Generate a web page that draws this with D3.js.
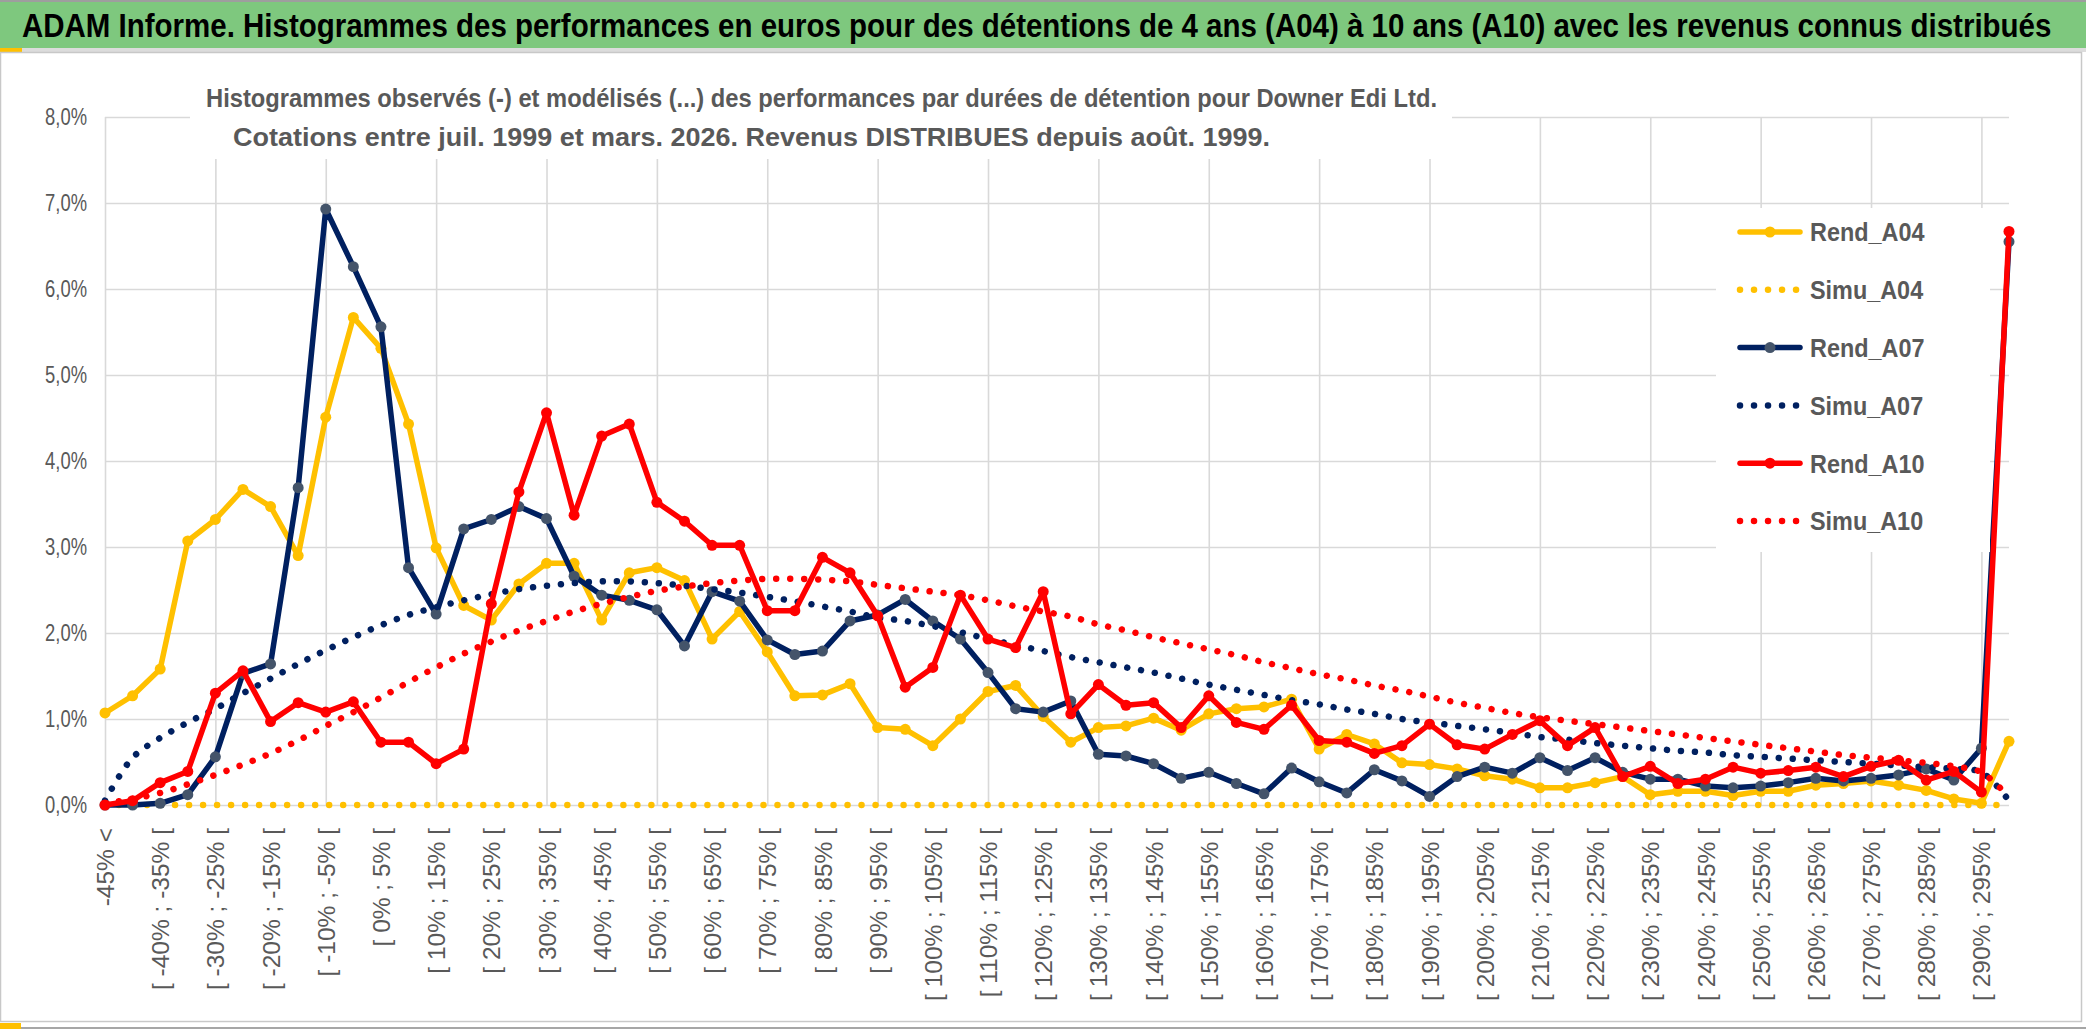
<!DOCTYPE html>
<html>
<head>
<meta charset="utf-8">
<script src="https://cdnjs.cloudflare.com/ajax/libs/d3/7.8.5/d3.min.js"></script>
<style>
  body { margin: 0; background: #fff; }
  svg { display: block; }
  text { font-family: "Liberation Sans", Arial, sans-serif; }
</style>
</head>
<body>
<div id="chart"></div>
<script>
// categories (classes de performance)
const categories = [
  "-45% <", "[ -45% ; -40% [", "[ -40% ; -35% [", "[ -35% ; -30% [", "[ -30% ; -25% [",
  "[ -25% ; -20% [", "[ -20% ; -15% [", "[ -15% ; -10% [", "[ -10% ; -5% [", "[ -5% ; 0% [",
  "[ 0% ; 5% [", "[ 5% ; 10% [", "[ 10% ; 15% [", "[ 15% ; 20% [", "[ 20% ; 25% [",
  "[ 25% ; 30% [", "[ 30% ; 35% [", "[ 35% ; 40% [", "[ 40% ; 45% [", "[ 45% ; 50% [",
  "[ 50% ; 55% [", "[ 55% ; 60% [", "[ 60% ; 65% [", "[ 65% ; 70% [", "[ 70% ; 75% [",
  "[ 75% ; 80% [", "[ 80% ; 85% [", "[ 85% ; 90% [", "[ 90% ; 95% [", "[ 95% ; 100% [",
  "[ 100% ; 105% [", "[ 105% ; 110% [", "[ 110% ; 115% [", "[ 115% ; 120% [", "[ 120% ; 125% [",
  "[ 125% ; 130% [", "[ 130% ; 135% [", "[ 135% ; 140% [", "[ 140% ; 145% [", "[ 145% ; 150% [",
  "[ 150% ; 155% [", "[ 155% ; 160% [", "[ 160% ; 165% [", "[ 165% ; 170% [", "[ 170% ; 175% [",
  "[ 175% ; 180% [", "[ 180% ; 185% [", "[ 185% ; 190% [", "[ 190% ; 195% [", "[ 195% ; 200% [",
  "[ 200% ; 205% [", "[ 205% ; 210% [", "[ 210% ; 215% [", "[ 215% ; 220% [", "[ 220% ; 225% [",
  "[ 225% ; 230% [", "[ 230% ; 235% [", "[ 235% ; 240% [", "[ 240% ; 245% [", "[ 245% ; 250% [",
  "[ 250% ; 255% [", "[ 255% ; 260% [", "[ 260% ; 265% [", "[ 265% ; 270% [", "[ 270% ; 275% [",
  "[ 275% ; 280% [", "[ 280% ; 285% [", "[ 285% ; 290% [", "[ 290% ; 295% [", "> 295%"
];

// valeurs en %
const rendA04 = [
  1.07, 1.27, 1.58, 3.07, 3.32, 3.67, 3.47, 2.90, 4.51, 5.67,
  5.31, 4.43, 2.99, 2.32, 2.15, 2.57, 2.81, 2.81, 2.15, 2.70,
  2.76, 2.61, 1.93, 2.25, 1.78, 1.27, 1.28, 1.41, 0.90, 0.88,
  0.69, 1.00, 1.32, 1.39, 1.03, 0.73, 0.90, 0.92, 1.01, 0.87,
  1.06, 1.12, 1.14, 1.23, 0.65, 0.82, 0.71, 0.49, 0.47, 0.42,
  0.34, 0.30, 0.20, 0.20, 0.26, 0.33, 0.12, 0.16, 0.16, 0.11,
  0.16, 0.16, 0.23, 0.25, 0.28, 0.23, 0.17, 0.07, 0.02, 0.74
];
const simuA04 = [
  0, 0, 0, 0, 0, 0, 0, 0, 0, 0,
  0, 0, 0, 0, 0, 0, 0, 0, 0, 0,
  0, 0, 0, 0, 0, 0, 0, 0, 0, 0,
  0, 0, 0, 0, 0, 0, 0, 0, 0, 0,
  0, 0, 0, 0, 0, 0, 0, 0, 0, 0,
  0, 0, 0, 0, 0, 0, 0, 0, 0, 0,
  0, 0, 0, 0, 0, 0, 0, 0, 0, 0
];
const rendA07 = [
  0.00, 0.00, 0.02, 0.12, 0.56, 1.53, 1.64, 3.69, 6.93, 6.26,
  5.56, 2.76, 2.22, 3.21, 3.32, 3.47, 3.33, 2.66, 2.44, 2.38,
  2.27, 1.85, 2.48, 2.37, 1.92, 1.75, 1.79, 2.14, 2.21, 2.39,
  2.14, 1.93, 1.54, 1.12, 1.08, 1.21, 0.59, 0.57, 0.48, 0.31,
  0.38, 0.25, 0.13, 0.43, 0.27, 0.14, 0.41, 0.28, 0.10, 0.33,
  0.44, 0.37, 0.55, 0.40, 0.55, 0.38, 0.30, 0.30, 0.22, 0.20,
  0.22, 0.26, 0.31, 0.28, 0.31, 0.35, 0.42, 0.29, 0.66, 6.55
];
const simuA07 = [
  0.05, 0.55, 0.78, 0.96, 1.12, 1.30, 1.47, 1.64, 1.80, 1.95,
  2.09, 2.21, 2.30, 2.38, 2.45, 2.51, 2.55, 2.58, 2.60, 2.60,
  2.58, 2.55, 2.51, 2.47, 2.42, 2.37, 2.31, 2.25, 2.18, 2.14,
  2.08, 2.01, 1.93, 1.86, 1.79, 1.72, 1.66, 1.60, 1.54, 1.47,
  1.40, 1.34, 1.28, 1.22, 1.17, 1.11, 1.06, 1.00, 0.96, 0.92,
  0.88, 0.84, 0.79, 0.76, 0.72, 0.69, 0.66, 0.63, 0.61, 0.58,
  0.56, 0.54, 0.52, 0.50, 0.48, 0.46, 0.44, 0.42, 0.38, 0.05
];
const rendA10 = [
  0.00, 0.05, 0.26, 0.39, 1.30, 1.56, 0.97, 1.19, 1.08, 1.20,
  0.73, 0.73, 0.48, 0.65, 2.34, 3.64, 4.56, 3.37, 4.29, 4.43,
  3.52, 3.30, 3.02, 3.02, 2.26, 2.26, 2.88, 2.70, 2.20, 1.37,
  1.60, 2.44, 1.93, 1.83, 2.48, 1.06, 1.40, 1.16, 1.19, 0.90,
  1.27, 0.96, 0.88, 1.16, 0.75, 0.73, 0.60, 0.69, 0.94, 0.70,
  0.65, 0.82, 0.98, 0.69, 0.90, 0.33, 0.45, 0.25, 0.30, 0.44,
  0.37, 0.40, 0.44, 0.33, 0.45, 0.52, 0.29, 0.39, 0.15, 6.67
];
const simuA10 = [
  0.02, 0.07, 0.14, 0.24, 0.35, 0.47, 0.60, 0.75, 0.92, 1.08,
  1.25, 1.43, 1.60, 1.76, 1.90, 2.03, 2.14, 2.25, 2.34, 2.42,
  2.49, 2.54, 2.58, 2.61, 2.63, 2.63, 2.62, 2.60, 2.56, 2.52,
  2.48, 2.44, 2.38, 2.31, 2.25, 2.19, 2.10, 2.03, 1.95, 1.88,
  1.81, 1.74, 1.66, 1.59, 1.52, 1.46, 1.39, 1.33, 1.26, 1.19,
  1.13, 1.07, 1.02, 0.98, 0.94, 0.90, 0.86, 0.82, 0.78, 0.74,
  0.70, 0.66, 0.62, 0.58, 0.55, 0.52, 0.49, 0.45, 0.38, 0.09
];
const yTicks = [0, 1, 2, 3, 4, 5, 6, 7, 8];

const titre = "ADAM Informe. Histogrammes des performances en euros pour des détentions de 4 ans (A04) à 10 ans (A10) avec les revenus connus distribués";
const sousTitre = [
  "Histogrammes observés (-) et modélisés (...) des performances par durées de détention pour Downer Edi Ltd.",
  "Cotations entre juil. 1999 et mars. 2026. Revenus DISTRIBUES depuis août. 1999."
];

const series = [
  {name: "Rend_A04", values: rendA04, color: "#FFC000", marker: "#FFC000", dotted: false},
  {name: "Simu_A04", values: simuA04, color: "#FFC000", dotted: true},
  {name: "Rend_A07", values: rendA07, color: "#002060", marker: "#44546A", dotted: false},
  {name: "Simu_A07", values: simuA07, color: "#002060", dotted: true},
  {name: "Rend_A10", values: rendA10, color: "#FF0000", marker: "#FF0000", dotted: false},
  {name: "Simu_A10", values: simuA10, color: "#FF0000", dotted: true}
];

const W = 2086, H = 1031;
const grey = "#595959", gridCol = "#d9d9d9";

const svg = d3.select("#chart").append("svg")
  .attr("width", W).attr("height", H);

// compresse un texte horizontalement (police type Calibri étroite)
function squeeze(sel, k) {
  sel.each(function () {
    const L = this.getComputedTextLength();
    this.setAttribute("textLength", L * k);
    this.setAttribute("lengthAdjust", "spacingAndGlyphs");
  });
}

// fond, bandeau vert et cadre
svg.append("rect").attr("width", W).attr("height", H).attr("fill", "#fff");
svg.append("rect").attr("x", 0).attr("y", 0).attr("width", W).attr("height", 2).attr("fill", "#9e9e9e");
svg.append("rect").attr("x", 0).attr("y", 2).attr("width", W).attr("height", 46).attr("fill", "#7ec87e");
svg.append("rect").attr("x", 0).attr("y", 48).attr("width", W).attr("height", 4).attr("fill", "#dcdcdc");
svg.append("rect").attr("x", 0).attr("y", 48).attr("width", 22).attr("height", 5).attr("fill", "#FFC000");
svg.append("rect").attr("x", 0.5).attr("y", 52.5).attr("width", 2081).attr("height", 969)
  .attr("fill", "none").attr("stroke", "#c8c8c8").attr("stroke-width", 1.5);
svg.append("rect").attr("x", 0).attr("y", 1027).attr("width", W).attr("height", 2).attr("fill", "#a6a6a6");
svg.append("rect").attr("x", 0).attr("y", 1023).attr("width", 21).attr("height", 6).attr("fill", "#FFC000");

// titre : police étroite simulée par une mise à l'échelle horizontale
const gTitre = svg.append("g").attr("transform", "translate(22,37)");
const tTitre = gTitre.append("text")
  .attr("font-size", 33).attr("font-weight", "bold").attr("fill", "#000")
  .text(titre);
const kTitre = 2030 / tTitre.node().getComputedTextLength();
gTitre.attr("transform", `translate(22,37) scale(${kTitre},1)`);

// échelles
const x = d3.scalePoint().domain(d3.range(categories.length)).range([105, 2009]);
const y = d3.scaleLinear().domain([0, 8]).range([805, 117]);
const plotW = x.range()[1] - x.range()[0];

// grille horizontale + libellés Y
const gy = svg.append("g").attr("transform", `translate(${x(0)},0)`)
  .call(d3.axisLeft(y).tickValues(yTicks).tickSize(-plotW).tickPadding(18)
    .tickFormat(d => d.toFixed(1).replace(".", ",") + "%"));
gy.select(".domain").remove();
gy.selectAll("line").attr("stroke", gridCol).attr("stroke-width", 1.6);
gy.selectAll("text").attr("font-size", 23).attr("fill", grey)
  .attr("font-family", "Liberation Sans, Arial, sans-serif").call(squeeze, 0.8);

// grille verticale (toutes les 4 classes)
const gx = svg.append("g").attr("transform", `translate(0,${y(0)})`)
  .call(d3.axisBottom(x).tickValues(d3.range(0, categories.length, 4))
    .tickSize(-(y(0) - y(8))).tickFormat(""));
gx.select(".domain").remove();
gx.selectAll("line").attr("stroke", gridCol).attr("stroke-width", 1.6);

// libellés X (une classe sur deux)
const gl = svg.append("g").attr("transform", `translate(0,${y(0)})`)
  .call(d3.axisBottom(x).tickValues(d3.range(0, categories.length, 2))
    .tickSize(0).tickFormat(i => categories[i]));
gl.select(".domain").remove();
gl.selectAll("text")
  .attr("transform", "rotate(-90)")
  .attr("x", -23).attr("y", 0).attr("dy", "0.35em")
  .attr("text-anchor", "end")
  .attr("font-size", 24.5).attr("fill", grey)
  .attr("font-family", "Liberation Sans, Arial, sans-serif");

// bloc du sous-titre (masque le haut de la grille)
svg.append("rect").attr("x", 190).attr("y", 58).attr("width", 1262).attr("height", 101).attr("fill", "#fff");
const stPos = [{x: 206, y: 107, len: 1231}, {x: 233, y: 146, len: 1037}];
sousTitre.forEach((t, i) => {
  svg.append("text")
    .attr("x", stPos[i].x).attr("y", stPos[i].y)
    .attr("font-size", 26).attr("font-weight", "bold").attr("fill", grey)
    .attr("textLength", stPos[i].len).attr("lengthAdjust", "spacingAndGlyphs")
    .text(t);
});

// séries
const lineRend = d3.line().x((d, i) => x(i)).y(d => y(d));
const lineSimu = d3.line().x((d, i) => x(i)).y(d => y(d)).curve(d3.curveCatmullRom.alpha(0.5));

const gs = svg.append("g");
series.forEach(s => {
  const g = gs.append("g");
  g.append("path")
    .datum(s.values)
    .attr("d", s.dotted ? lineSimu : lineRend)
    .attr("fill", "none")
    .attr("stroke", s.color)
    .attr("stroke-width", s.dotted ? 6.5 : 5.5)
    .attr("stroke-linejoin", "round")
    .attr("stroke-linecap", "round")
    .attr("stroke-dasharray", s.dotted ? "0.01 14" : null);
  if (!s.dotted) {
    g.selectAll("circle").data(s.values).enter().append("circle")
      .attr("cx", (d, i) => x(i)).attr("cy", d => y(d))
      .attr("r", 5.5).attr("fill", s.marker);
  }
});

// légende
const lg = svg.append("g");
lg.append("rect").attr("x", 1716).attr("y", 208).attr("width", 274).attr("height", 344).attr("fill", "#fff");
series.forEach((s, i) => {
  const cy = 232 + i * 57.8;
  lg.append("line")
    .attr("x1", 1740).attr("x2", 1800).attr("y1", cy).attr("y2", cy)
    .attr("stroke", s.color)
    .attr("stroke-width", s.dotted ? 6.5 : 5.5)
    .attr("stroke-linecap", "round")
    .attr("stroke-dasharray", s.dotted ? "0.01 14" : null);
  if (!s.dotted) {
    lg.append("circle").attr("cx", 1770).attr("cy", cy).attr("r", 5.5).attr("fill", s.marker);
  }
  lg.append("text")
    .attr("x", 1810).attr("y", cy).attr("dy", "0.36em")
    .attr("font-size", 26).attr("font-weight", "bold").attr("fill", grey)
    .text(s.name)
    .call(squeeze, 0.9);
});
</script>
</body>
</html>
